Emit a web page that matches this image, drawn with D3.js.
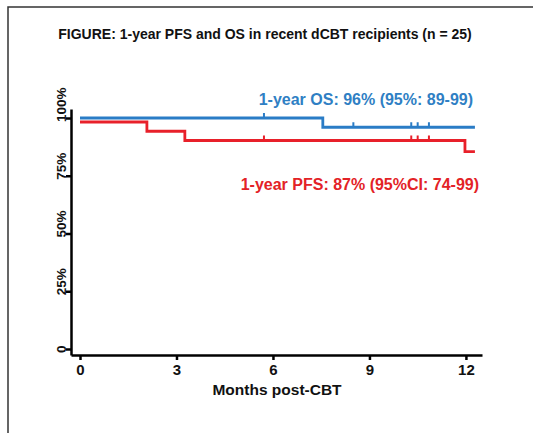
<!DOCTYPE html>
<html><head><meta charset="utf-8">
<script src="https://cdn.jsdelivr.net/npm/d3@7"></script>
<style>html,body{margin:0;padding:0;background:#fff;}svg{display:block;font-family:"Liberation Sans",Arial,sans-serif;}</style>
</head><body>
<svg id="c" width="533" height="433"></svg>
<script>
const titleText = "FIGURE: 1-year PFS and OS in recent dCBT recipients (n = 25)";
const osLabel = "1-year OS: 96% (95%: 89-99)";
const pfsLabel = "1-year PFS: 87% (95%CI: 74-99)";
const xTicks = [0, 3, 6, 9, 12];
const yTicks = [0, 25, 50, 75, 100];
const yTickLabels = ["0", "25%", "50%", "75%", "100%"];
const xTitle = "Months post-CBT";
// Kaplan-Meier steps (months, % surviving)
const osTimes = [0, 7.55, 12.28];
const osSurv = [100, 96, 96];
const osCensor = [5.72, 8.5, 10.3, 10.5, 10.85];
const pfsTimes = [0, 2.08, 3.26, 11.97, 12.28];
const pfsSurv = [100, 96, 92, 87.2, 87.2];
const pfsCensor = [5.72, 10.3, 10.5, 10.85];

const svg = d3.select("#c");
// frame
svg.append("path").attr("d", "M8,433 V7 H533").attr("fill", "none").attr("stroke", "#333").attr("stroke-width", 1.5);

const x = d3.scaleLinear().domain([-0.28, 12.5]).range([71, 482]);
const y = d3.scaleLinear().domain([-2.6, 103.9]).range([355, 109]);

svg.append("text").attr("x", 265).attr("y", 38.5).attr("text-anchor", "middle")
  .attr("font-size", 14).attr("font-weight", "bold").attr("fill", "#111").text(titleText);

const xAxis = svg.append("g").attr("transform", "translate(0,355)")
  .call(d3.axisBottom(x).tickValues(xTicks).tickSize(5).tickSizeOuter(0).tickPadding(4));
xAxis.selectAll("path,line").attr("stroke", "#000").attr("stroke-width", 2.5);
xAxis.selectAll("text").attr("font-size", 15).attr("font-weight", "bold").attr("fill", "#111")
  .attr("font-family", "Liberation Sans, Arial, sans-serif");

const yAxis = svg.append("g").attr("transform", "translate(71,0)")
  .call(d3.axisLeft(y).tickValues(yTicks).tickSize(5).tickSizeOuter(0).tickFormat((d, i) => yTickLabels[i]));
yAxis.selectAll("path,line").attr("stroke", "#000").attr("stroke-width", 2.5);
yAxis.selectAll("text").attr("transform", "rotate(-90)").attr("x", -3.5).attr("dy", 0)
  .attr("y", -5.5).attr("text-anchor", "start")
  .attr("font-size", 13.5).attr("font-weight", "bold").attr("fill", "#111")
  .attr("font-family", "Liberation Sans, Arial, sans-serif");

svg.append("text").attr("x", 277).attr("y", 395).attr("text-anchor", "middle")
  .attr("font-size", 15.5).attr("font-weight", "bold").attr("fill", "#111").text(xTitle);

const line = d3.line().x(d => x(d[0])).y(d => y(d[1])).curve(d3.curveStepAfter);
function survAt(times, surv, t) { let v = surv[0]; for (let i = 0; i < times.length; i++) if (times[i] <= t) v = surv[i]; return v; }

function drawCurve(times, surv, censor, color, dy) {
  const g = svg.append("g").attr("transform", `translate(0,${dy})`);
  g.append("path").attr("d", line(times.map((t, i) => [t, surv[i]])))
    .attr("fill", "none").attr("stroke", color).attr("stroke-width", 2.8);
  g.selectAll("line.c").data(censor).enter().append("line")
    .attr("x1", d => x(d)).attr("x2", d => x(d))
    .attr("y1", d => y(survAt(times, surv, d)) - 5).attr("y2", d => y(survAt(times, surv, d)))
    .attr("stroke", color).attr("stroke-width", 2);
}
const red = "#e8202a", blue = "#2a7cc6";
drawCurve(pfsTimes, pfsSurv, pfsCensor, red, 4);
drawCurve(osTimes, osSurv, osCensor, blue, 0);

svg.append("text").attr("x", 473).attr("y", 105).attr("text-anchor", "end")
  .attr("font-size", 16).attr("font-weight", "bold").attr("fill", "#2f7fc4").text(osLabel);
svg.append("text").attr("x", 479).attr("y", 190).attr("text-anchor", "end")
  .attr("font-size", 16).attr("font-weight", "bold").attr("fill", "#e32226").text(pfsLabel);
</script>
</body></html>
